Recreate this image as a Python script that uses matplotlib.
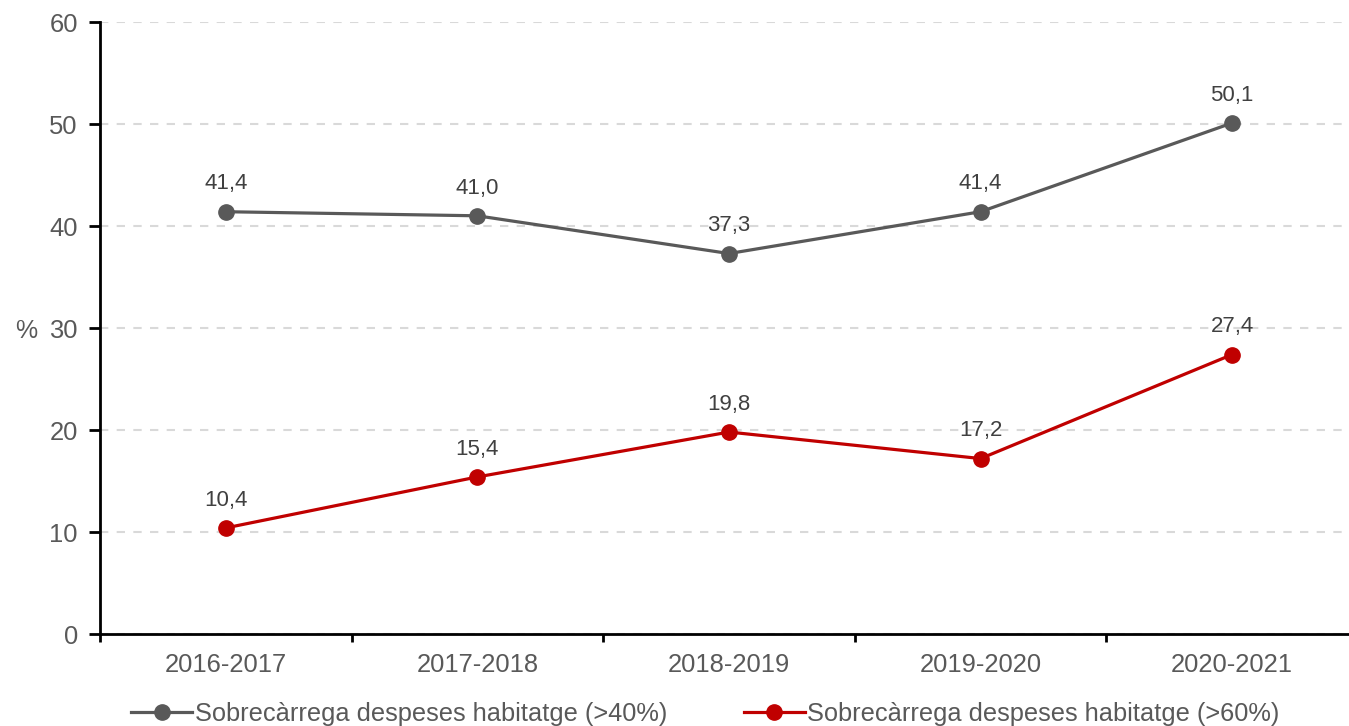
import matplotlib
matplotlib.use("Agg")
import matplotlib.pyplot as plt
from matplotlib.ticker import FixedLocator, NullFormatter

plt.rcParams['font.family'] = ['Liberation Sans', 'DejaVu Sans']

categories = ["2016-2017", "2017-2018", "2018-2019", "2019-2020", "2020-2021"]
series_40 = [41.4, 41.0, 37.3, 41.4, 50.1]
series_60 = [10.4, 15.4, 19.8, 17.2, 27.4]
label_40 = "Sobrecàrrega despeses habitatge (>40%)"
label_60 = "Sobrecàrrega despeses habitatge (>60%)"
yticks = [0, 10, 20, 30, 40, 50, 60]

W, H = 1349, 726
fig = plt.figure(figsize=(W / 100, H / 100), dpi=100)
ax = fig.add_axes([100 / W, 1 - 634 / H, 1249 / W, (634 - 22) / H])

x = list(range(len(categories)))
grey = "#595959"
red = "#C00000"

ax.plot(x, series_40, color=grey, lw=2.3, marker="o", ms=11, label=label_40, zorder=3)
ax.plot(x, series_60, color=red, lw=2.3, marker="o", ms=11, label=label_60, zorder=3)

for xs, ys in ((x, series_40), (x, series_60)):
    for xi, yi in zip(xs, ys):
        ax.annotate(f"{yi:.1f}".replace(".", ","), (xi, yi), xytext=(0, 20),
                    textcoords="offset points", ha="center", va="center",
                    fontsize=16, color="#404040")

ax.set_xlim(-0.5, 4.5 - 9 / 251.6)
ax.set_ylim(0, 60)
ax.set_yticks(yticks)
ax.set_xticks(x)
ax.set_xticklabels(categories)
ax.xaxis.set_minor_locator(FixedLocator([i - 0.5 for i in range(len(categories) + 1)]))
ax.xaxis.set_minor_formatter(NullFormatter())
ax.tick_params(axis="x", which="major", length=0, pad=14, labelsize=18.4, labelcolor=grey)
ax.tick_params(axis="x", which="minor", length=6, width=2, color="black", direction="out")
ax.tick_params(axis="y", length=8, width=2, color="black", pad=8, labelsize=18.4, labelcolor=grey)

for s in ("top", "right"):
    ax.spines[s].set_visible(False)
for s in ("left", "bottom"):
    ax.spines[s].set_linewidth(2)
    ax.spines[s].set_color("black")

ax.yaxis.grid(True, color="#d9d9d9", linestyle=(0, (4, 4)), linewidth=1.5)
ax.set_axisbelow(True)

fig.text(26 / W, 1 - 331 / H, "%", fontsize=18, color=grey, ha="center", va="center")

leg = fig.legend(loc="center", bbox_to_anchor=(0.523, 1 - 714 / H), ncol=2, frameon=False,
                 fontsize=18.3, labelcolor=grey, handlelength=2.4, handletextpad=0.1,
                 columnspacing=3.0)

fig.savefig("out.png", dpi=100)
